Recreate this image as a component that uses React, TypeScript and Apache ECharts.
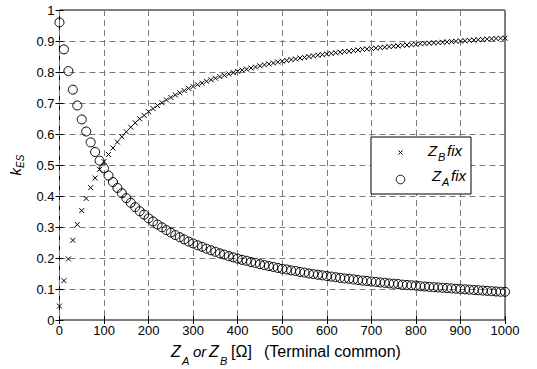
import React, { useEffect, useRef } from "react";
import * as echarts from "echarts";

const zValues = [
  0, 10, 20, 30, 40, 50, 60, 70, 80, 90,
  100, 110, 120, 130, 140, 150, 160, 170, 180, 190,
  200, 210, 220, 230, 240, 250, 260, 270, 280, 290,
  300, 310, 320, 330, 340, 350, 360, 370, 380, 390,
  400, 410, 420, 430, 440, 450, 460, 470, 480, 490,
  500, 510, 520, 530, 540, 550, 560, 570, 580, 590,
  600, 610, 620, 630, 640, 650, 660, 670, 680, 690,
  700, 710, 720, 730, 740, 750, 760, 770, 780, 790,
  800, 810, 820, 830, 840, 850, 860, 870, 880, 890,
  900, 910, 920, 930, 940, 950, 960, 970, 980, 990, 1000,
];

const zbFix = [
  0.045, 0.127, 0.197, 0.257, 0.308, 0.353, 0.392, 0.427, 0.458, 0.486,
  0.511, 0.534, 0.555, 0.574, 0.591, 0.607, 0.622, 0.636, 0.649, 0.660,
  0.672, 0.682, 0.692, 0.701, 0.710, 0.718, 0.726, 0.733, 0.740, 0.747,
  0.753, 0.759, 0.764, 0.770, 0.775, 0.780, 0.785, 0.789, 0.794, 0.798,
  0.802, 0.806, 0.809, 0.813, 0.816, 0.820, 0.823, 0.826, 0.829, 0.832,
  0.835, 0.837, 0.840, 0.842, 0.845, 0.847, 0.850, 0.852, 0.854, 0.856,
  0.858, 0.860, 0.862, 0.864, 0.866, 0.867, 0.869, 0.871, 0.873, 0.874,
  0.876, 0.877, 0.879, 0.880, 0.882, 0.883, 0.884, 0.886, 0.887, 0.888,
  0.889, 0.891, 0.892, 0.893, 0.894, 0.895, 0.896, 0.897, 0.898, 0.899,
  0.900, 0.901, 0.902, 0.903, 0.904, 0.905, 0.906, 0.907, 0.908, 0.909, 0.909,
];

const zaFix = [
  0.960, 0.873, 0.803, 0.743, 0.692, 0.647, 0.608, 0.573, 0.542, 0.514,
  0.489, 0.466, 0.445, 0.426, 0.409, 0.393, 0.378, 0.364, 0.351, 0.340,
  0.328, 0.318, 0.308, 0.299, 0.290, 0.282, 0.274, 0.267, 0.260, 0.253,
  0.247, 0.241, 0.236, 0.230, 0.225, 0.220, 0.215, 0.211, 0.206, 0.202,
  0.198, 0.194, 0.191, 0.187, 0.184, 0.180, 0.177, 0.174, 0.171, 0.168,
  0.165, 0.163, 0.160, 0.158, 0.155, 0.153, 0.150, 0.148, 0.146, 0.144,
  0.142, 0.140, 0.138, 0.136, 0.134, 0.133, 0.131, 0.129, 0.127, 0.126,
  0.124, 0.123, 0.121, 0.120, 0.118, 0.117, 0.116, 0.114, 0.113, 0.112,
  0.111, 0.109, 0.108, 0.107, 0.106, 0.105, 0.104, 0.103, 0.102, 0.101,
  0.100, 0.099, 0.098, 0.097, 0.096, 0.095, 0.094, 0.093, 0.092, 0.091, 0.091,
];

const FONT = "Liberation Sans, Arial, sans-serif";
const CROSS = "path://M0,0L10,10M10,0L0,10";

export default function App() {
  const ref = useRef<HTMLDivElement>(null);
  useEffect(() => {
    const chart = echarts.init(ref.current!, null, { renderer: "svg" });
    const gridLine = { show: true, lineStyle: { color: "#7a7a7a", type: [6, 4] as any, width: 1 } };
    const tick = { show: true, inside: true, length: 4, lineStyle: { color: "#000" } };
    const hiddenAxis = {
      axisLine: { show: false },
      axisLabel: { show: false },
      splitLine: { show: false },
      axisTick: tick,
    };
    const txt = (size: number, x: number, y: number, text: string, italic = true) => ({
      type: "text",
      x,
      y,
      z: 11,
      style: {
        text,
        fontSize: size,
        fontStyle: italic ? "italic" : "normal",
        fontFamily: FONT,
        fill: "#000",
        align: "left",
        verticalAlign: "middle",
      },
    });
    chart.setOption({
      animation: false,
      textStyle: { fontFamily: FONT },
      grid: { left: 58, right: 32, top: 10, bottom: 49, show: true, borderColor: "#000", borderWidth: 1, backgroundColor: "#fff" },
      xAxis: [
        {
          type: "value", min: 0, max: 1000, interval: 100,
          axisLine: { show: false },
          axisTick: tick,
          axisLabel: { color: "#000", fontSize: 13, fontFamily: FONT, margin: 4, formatter: (v: number) => String(v) },
          splitLine: gridLine,
        },
        { type: "value", min: 0, max: 1000, interval: 100, position: "top", ...hiddenAxis },
      ],
      yAxis: [
        {
          type: "value", min: 0, max: 1, interval: 0.1,
          axisLine: { show: false },
          axisTick: tick,
          axisLabel: { color: "#000", fontSize: 13, fontFamily: FONT, margin: 5 },
          splitLine: gridLine,
          name: "{k|k}{s|ES}",
          nameLocation: "middle",
          nameRotate: 90,
          nameGap: 33,
          nameTextStyle: {
            rich: {
              k: { fontSize: 15, fontStyle: "italic", fontFamily: FONT, color: "#000", verticalAlign: "middle", lineHeight: 20 },
              s: { fontSize: 10, fontStyle: "italic", fontFamily: FONT, color: "#000", verticalAlign: "bottom", lineHeight: 3 },
            },
          },
        },
        { type: "value", min: 0, max: 1, interval: 0.1, position: "right", ...hiddenAxis },
      ],
      graphic: [
        // x-axis title
        txt(16, 171, 351, "Z"),
        txt(11, 182, 361, "A"),
        txt(15, 193, 351, "or"),
        txt(16, 209, 351, "Z"),
        txt(11, 220, 361, "B"),
        txt(16, 231, 351, "[Ω]", false),
        txt(16, 264, 351, "(Terminal common)", false),
        // legend
        {
          type: "rect",
          shape: { x: 371, y: 137, width: 100, height: 57 },
          style: { fill: "#fff", stroke: "#000", lineWidth: 1 },
          z: 10,
        },
        { type: "line", shape: { x1: 398.5, y1: 150.5, x2: 402.5, y2: 154.5 }, style: { stroke: "#000", lineWidth: 1 }, z: 11 },
        { type: "line", shape: { x1: 402.5, y1: 150.5, x2: 398.5, y2: 154.5 }, style: { stroke: "#000", lineWidth: 1 }, z: 11 },
        { type: "circle", shape: { cx: 400.5, cy: 179.5, r: 4.3 }, style: { fill: "none", stroke: "#000", lineWidth: 1 }, z: 11 },
        txt(15, 428, 150, "Z"),
        txt(11, 438, 157, "B"),
        txt(15, 447, 150, "fix"),
        txt(15, 432, 175, "Z"),
        txt(11, 442, 182, "A"),
        txt(15, 451, 175, "fix"),
      ],
      series: [
        {
          name: "ZB fix",
          type: "scatter",
          data: zValues.map((x, i) => [x, zbFix[i]]),
          symbol: CROSS,
          symbolSize: 5,
          itemStyle: { color: "none", borderColor: "#000", borderWidth: 1, opacity: 1 },
          z: 3,
        },
        {
          name: "ZA fix",
          type: "scatter",
          data: zValues.map((x, i) => [x, zaFix[i]]),
          symbol: "circle",
          symbolSize: 9,
          itemStyle: { color: "none", borderColor: "#000", borderWidth: 1, opacity: 1 },
          z: 3,
        },
      ],
    });
    return () => chart.dispose();
  }, []);
  return <div ref={ref} style={{ position: "absolute", left: 0, top: 0, width: 537, height: 369 }} />;
}
